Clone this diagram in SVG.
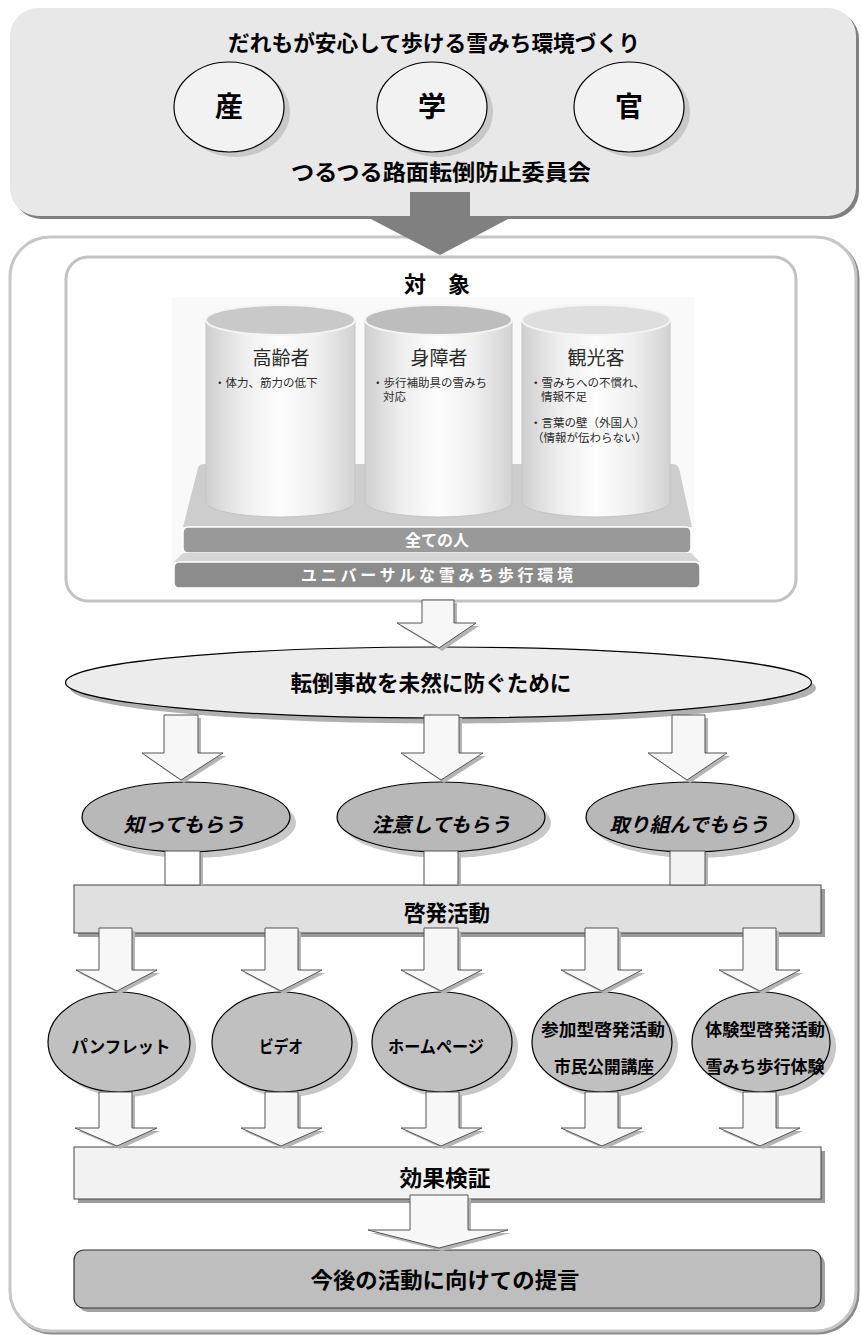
<svg xmlns="http://www.w3.org/2000/svg" width="862" height="1335" viewBox="0 0 862 1335">
<defs>
<style>
.b{font-family:"Noto Sans CJK JP","Noto Sans CJK SC",sans-serif;font-weight:700;fill:#000;text-anchor:middle}
.n{font-family:"Noto Sans CJK JP","Noto Sans CJK SC",sans-serif;font-weight:400;fill:#2a2a2a}
.w{font-family:"Noto Sans CJK JP","Noto Sans CJK SC",sans-serif;font-weight:700;fill:#fff;text-anchor:middle}
.ha{fill:#f7f7f7;stroke:#555;stroke-width:1}
.hs{fill:#b4b4b4}
.sh{fill:#c8c8c8}
</style>
<linearGradient id="cyl" x1="0" y1="0" x2="1" y2="0">
<stop offset="0" stop-color="#cfcfcf"/>
<stop offset="0.25" stop-color="#eeeeee"/>
<stop offset="0.5" stop-color="#fdfdfd"/>
<stop offset="0.75" stop-color="#efefef"/>
<stop offset="1" stop-color="#d2d2d2"/>
</linearGradient>
</defs>

<g id="top-panel">
<rect x="13" y="11" width="846" height="208" rx="28" fill="#7f7f7f"/>
<rect x="10" y="8" width="846" height="208" rx="28" fill="#e8e8e8"/>
<text class="b" x="434" y="51" font-size="22" textLength="412" lengthAdjust="spacingAndGlyphs">だれもが安心して歩ける雪みち環境づくり</text>
<text class="b" x="441" y="180" font-size="22" textLength="300" lengthAdjust="spacingAndGlyphs">つるつる路面転倒防止委員会</text>
</g>
<g id="node-san">
<ellipse cx="235" cy="112" rx="55" ry="45" class="sh"/>
<ellipse cx="229" cy="107" rx="55" ry="45" fill="#f2f2f2" stroke="#000" stroke-width="1.2"/>
<text class="b" x="229" y="117" font-size="28">産</text>
</g>
<g id="node-gaku">
<ellipse cx="438" cy="112" rx="55" ry="45" class="sh"/>
<ellipse cx="432" cy="107" rx="55" ry="45" fill="#f2f2f2" stroke="#000" stroke-width="1.2"/>
<text class="b" x="432" y="117" font-size="28">学</text>
</g>
<g id="node-kan">
<ellipse cx="635" cy="112" rx="55" ry="45" class="sh"/>
<ellipse cx="629" cy="107" rx="55" ry="45" fill="#f2f2f2" stroke="#000" stroke-width="1.2"/>
<text class="b" x="629" y="117" font-size="28">官</text>
</g>

<g id="outer-panel">
<rect x="12" y="239" width="846" height="1094" rx="40" fill="none" stroke="#8a8a8a" stroke-width="3"/>
<rect x="10" y="237" width="846" height="1094" rx="40" fill="#fff" stroke="#c6c6c6" stroke-width="3"/>
</g>

<g id="target-panel">
<rect x="66" y="257" width="730" height="344" rx="22" fill="#fff" stroke="#c2c2c2" stroke-width="3"/>
<text class="b" x="437" y="292" font-size="22">対　象</text>
<rect x="172" y="297" width="522" height="293" fill="#f9f9f9"/>
<path d="M198,468 Q199,464 204,464 H672 Q677,464 679,468 L692,527 H183 Z" fill="#cdcdcd"/>
<rect x="183" y="527" width="508" height="26" rx="5" fill="#999" stroke="#fff" stroke-width="1.5"/>
<text class="w" x="437" y="546" font-size="16">全ての人</text>
<path d="M183,553 H691 L700,562 H174 Z" fill="#d6d6d6"/>
<rect x="174" y="562" width="526" height="26" rx="5" fill="#8c8c8c" stroke="#fff" stroke-width="1.5"/>
<text class="w" x="437" y="581" font-size="16" textLength="272" lengthAdjust="spacing">ユニバーサルな雪みち歩行環境</text>
</g>
<g id="cyl-elderly">
<path d="M206,320 V502 A74.5,15 0 0 0 355,502 V320 Z" fill="url(#cyl)" stroke="#c4c4c4" stroke-width="1"/>
<ellipse cx="280.5" cy="320" rx="74.5" ry="15" fill="#c9c9c9" stroke="#f4f4f4" stroke-width="2"/>
<text class="n" x="281" y="365" font-size="19" text-anchor="middle">高齢者</text>
<text class="n" x="214" y="387" font-size="11.5">・体力、筋力の低下</text>
</g>
<g id="cyl-disabled">
<path d="M365,320 V502 A73.5,15 0 0 0 512,502 V320 Z" fill="url(#cyl)" stroke="#c4c4c4" stroke-width="1"/>
<ellipse cx="438.5" cy="320" rx="73.5" ry="15" fill="#bdbdbd" stroke="#f4f4f4" stroke-width="2"/>
<text class="n" x="439" y="365" font-size="19" text-anchor="middle">身障者</text>
<text class="n" x="372" y="387" font-size="11.5">・歩行補助具の雪みち</text>
<text class="n" x="383" y="401" font-size="11.5">対応</text>
</g>
<g id="cyl-tourist">
<path d="M522,320 V502 A74,15 0 0 0 670,502 V320 Z" fill="url(#cyl)" stroke="#c4c4c4" stroke-width="1"/>
<ellipse cx="596" cy="320" rx="74" ry="15" fill="#dedede" stroke="#f4f4f4" stroke-width="2"/>
<text class="n" x="596" y="365" font-size="19" text-anchor="middle">観光客</text>
<text class="n" x="530" y="387" font-size="11.5">・雪みちへの不慣れ、</text>
<text class="n" x="541" y="401" font-size="11.5">情報不足</text>
<text class="n" x="530" y="427" font-size="11.5">・言葉の壁（外国人）</text>
<text class="n" x="532" y="442" font-size="11.5">（情報が伝わらない）</text>
</g>

<g id="node-prevent">
<ellipse cx="443" cy="688" rx="373" ry="35.5" fill="#b0b0b0"/>
<ellipse cx="438.5" cy="682.5" rx="373" ry="35.5" fill="#ececec" stroke="#000" stroke-width="1.2"/>
<text class="b" x="431" y="691" font-size="22" textLength="281" lengthAdjust="spacingAndGlyphs">転倒事故を未然に防ぐために</text>
</g>

<g id="node-know">
<ellipse cx="192" cy="823" rx="104" ry="35" class="sh"/>
<ellipse cx="186" cy="817" rx="104" ry="35" fill="#b8b8b8" stroke="#000" stroke-width="1.2"/>
<text class="b" x="184" y="832" font-size="20" font-style="italic" textLength="121" lengthAdjust="spacingAndGlyphs">知ってもらう</text>
</g>
<g id="node-care">
<ellipse cx="447" cy="823" rx="104" ry="35" class="sh"/>
<ellipse cx="441" cy="817" rx="104" ry="35" fill="#b8b8b8" stroke="#000" stroke-width="1.2"/>
<text class="b" x="441" y="832" font-size="20" font-style="italic" textLength="139" lengthAdjust="spacingAndGlyphs">注意してもらう</text>
</g>
<g id="node-act">
<ellipse cx="696" cy="823" rx="104" ry="35" class="sh"/>
<ellipse cx="690" cy="817" rx="104" ry="35" fill="#b8b8b8" stroke="#000" stroke-width="1.2"/>
<text class="b" x="689" y="832" font-size="20" font-style="italic" textLength="159" lengthAdjust="spacingAndGlyphs">取り組んでもらう</text>
</g>

<g id="node-keihatsu">
<rect x="78" y="889" width="747" height="48" fill="#9a9a9a"/>
<rect x="74" y="885" width="747" height="48" fill="#e0e0e0" stroke="#444" stroke-width="1"/>
<text class="b" x="447" y="921" font-size="22" textLength="86" lengthAdjust="spacingAndGlyphs">啓発活動</text>
</g>

<g id="node-pamphlet">
<ellipse cx="125" cy="1047" rx="71" ry="50" class="sh"/>
<ellipse cx="119" cy="1042" rx="71" ry="50" fill="#c0c0c0" stroke="#000" stroke-width="1.2"/>
<text class="b" x="121" y="1053" font-size="17" textLength="99" lengthAdjust="spacingAndGlyphs">パンフレット</text>
</g>
<g id="node-video">
<ellipse cx="288" cy="1047" rx="70" ry="50" class="sh"/>
<ellipse cx="282" cy="1042" rx="70" ry="50" fill="#c0c0c0" stroke="#000" stroke-width="1.2"/>
<text class="b" x="281" y="1053" font-size="17" textLength="44" lengthAdjust="spacingAndGlyphs">ビデオ</text>
</g>
<g id="node-homepage">
<ellipse cx="448" cy="1047" rx="70" ry="50" class="sh"/>
<ellipse cx="442" cy="1042" rx="70" ry="50" fill="#c0c0c0" stroke="#000" stroke-width="1.2"/>
<text class="b" x="436" y="1053" font-size="17" textLength="96" lengthAdjust="spacingAndGlyphs">ホームページ</text>
</g>
<g id="node-participation">
<ellipse cx="608" cy="1047" rx="70" ry="50" class="sh"/>
<ellipse cx="602" cy="1042" rx="70" ry="50" fill="#c0c0c0" stroke="#000" stroke-width="1.2"/>
<text class="b" x="603" y="1036" font-size="17" textLength="124" lengthAdjust="spacingAndGlyphs">参加型啓発活動</text>
<text class="b" x="604" y="1073" font-size="17" textLength="100" lengthAdjust="spacingAndGlyphs">市民公開講座</text>
</g>
<g id="node-experience">
<ellipse cx="767" cy="1047" rx="69" ry="50" class="sh"/>
<ellipse cx="761" cy="1042" rx="69" ry="50" fill="#c0c0c0" stroke="#000" stroke-width="1.2"/>
<text class="b" x="765" y="1036" font-size="17" textLength="120" lengthAdjust="spacingAndGlyphs">体験型啓発活動</text>
<text class="b" x="765" y="1073" font-size="17" textLength="119" lengthAdjust="spacingAndGlyphs">雪みち歩行体験</text>
</g>

<g id="node-kouka">
<rect x="78" y="1151" width="747" height="52" fill="#9a9a9a"/>
<rect x="74" y="1147" width="747" height="52" fill="#f2f2f2" stroke="#444" stroke-width="1"/>
<text class="b" x="445" y="1186" font-size="22" textLength="91" lengthAdjust="spacingAndGlyphs">効果検証</text>
</g>

<g id="node-teigen">
<rect x="78" y="1254" width="747" height="58" rx="10" fill="#a0a0a0"/>
<rect x="74" y="1250" width="747" height="58" rx="10" fill="#bebebe" stroke="#333" stroke-width="1.2"/>
<text class="b" x="445" y="1288" font-size="22" textLength="269" lengthAdjust="spacingAndGlyphs">今後の活動に向けての提言</text>
</g>

<g id="connectors">
<polygon points="410,192 470,192 470,217 512,217 440,255 367,217 410,217" fill="#808080"/>

<polygon class="hs" points="425,603 457,603 457,626 479,626 442,651 400,626 425,626"/>
<polygon class="ha" points="422,600 454,600 454,623 476,623 439,648 397,623 422,623"/>

<polygon class="hs" points="167,718 201,718 201,756 226,756 184,783 145,756 167,756"/>
<polygon class="ha" points="164,715 198,715 198,753 223,753 181,780 142,753 164,753"/>
<polygon class="hs" points="427,718 462,718 462,756 486,756 444,783 404,756 427,756"/>
<polygon class="ha" points="424,715 459,715 459,753 483,753 441,780 401,753 424,753"/>
<polygon class="hs" points="675,718 708,718 708,756 730,756 690,783 651,756 675,756"/>
<polygon class="ha" points="672,715 705,715 705,753 727,753 687,780 648,753 672,753"/>

<rect x="168" y="853" width="35" height="32" fill="#b4b4b4"/>
<rect x="165" y="851" width="35" height="34" fill="#fff" stroke="#555" stroke-width="1"/>
<rect x="427" y="853" width="34" height="32" fill="#b4b4b4"/>
<rect x="424" y="851" width="34" height="34" fill="#fff" stroke="#555" stroke-width="1"/>
<rect x="673" y="853" width="35" height="32" fill="#b4b4b4"/>
<rect x="670" y="851" width="35" height="34" fill="#f2f2f2" stroke="#555" stroke-width="1"/>

<polygon class="hs" points="102,931 135,931 135,973 160,973 120,994 79,973 102,973"/>
<polygon class="ha" points="99,928 132,928 132,970 157,970 117,991 76,970 99,970"/>
<polygon class="hs" points="268,931 301,931 301,973 325,973 284,994 244,973 268,973"/>
<polygon class="ha" points="265,928 298,928 298,970 322,970 281,991 241,970 265,970"/>
<polygon class="hs" points="427,931 461,931 461,973 485,973 444,994 404,973 427,973"/>
<polygon class="ha" points="424,928 458,928 458,970 482,970 441,991 401,970 424,970"/>
<polygon class="hs" points="588,931 621,931 621,973 645,973 605,994 564,973 588,973"/>
<polygon class="ha" points="585,928 618,928 618,970 642,970 602,991 561,970 585,970"/>
<polygon class="hs" points="746,931 779,931 779,973 803,973 763,994 722,973 746,973"/>
<polygon class="ha" points="743,928 776,928 776,970 800,970 760,991 719,970 743,970"/>

<polygon class="hs" points="102,1095 135,1095 135,1131 160,1131 120,1149 78,1131 102,1131"/>
<polygon class="ha" points="99,1092 132,1092 132,1128 157,1128 117,1146 75,1128 99,1128"/>
<polygon class="hs" points="268,1095 301,1095 301,1131 325,1131 284,1149 244,1131 268,1131"/>
<polygon class="ha" points="265,1092 298,1092 298,1128 322,1128 281,1146 241,1128 265,1128"/>
<polygon class="hs" points="429,1095 462,1095 462,1131 485,1131 444,1149 404,1131 429,1131"/>
<polygon class="ha" points="426,1092 459,1092 459,1128 482,1128 441,1146 401,1128 426,1128"/>
<polygon class="hs" points="588,1095 621,1095 621,1131 645,1131 605,1149 564,1131 588,1131"/>
<polygon class="ha" points="585,1092 618,1092 618,1128 642,1128 602,1146 561,1128 585,1128"/>
<polygon class="hs" points="746,1095 779,1095 779,1131 803,1131 763,1149 722,1131 746,1131"/>
<polygon class="ha" points="743,1092 776,1092 776,1128 800,1128 760,1146 719,1128 743,1128"/>

<polygon class="hs" points="413,1198 471,1198 471,1233 511,1233 442,1251 371,1233 413,1233"/>
<polygon class="ha" points="410,1195 468,1195 468,1230 508,1230 439,1248 368,1230 410,1230"/>
</g>
</svg>
